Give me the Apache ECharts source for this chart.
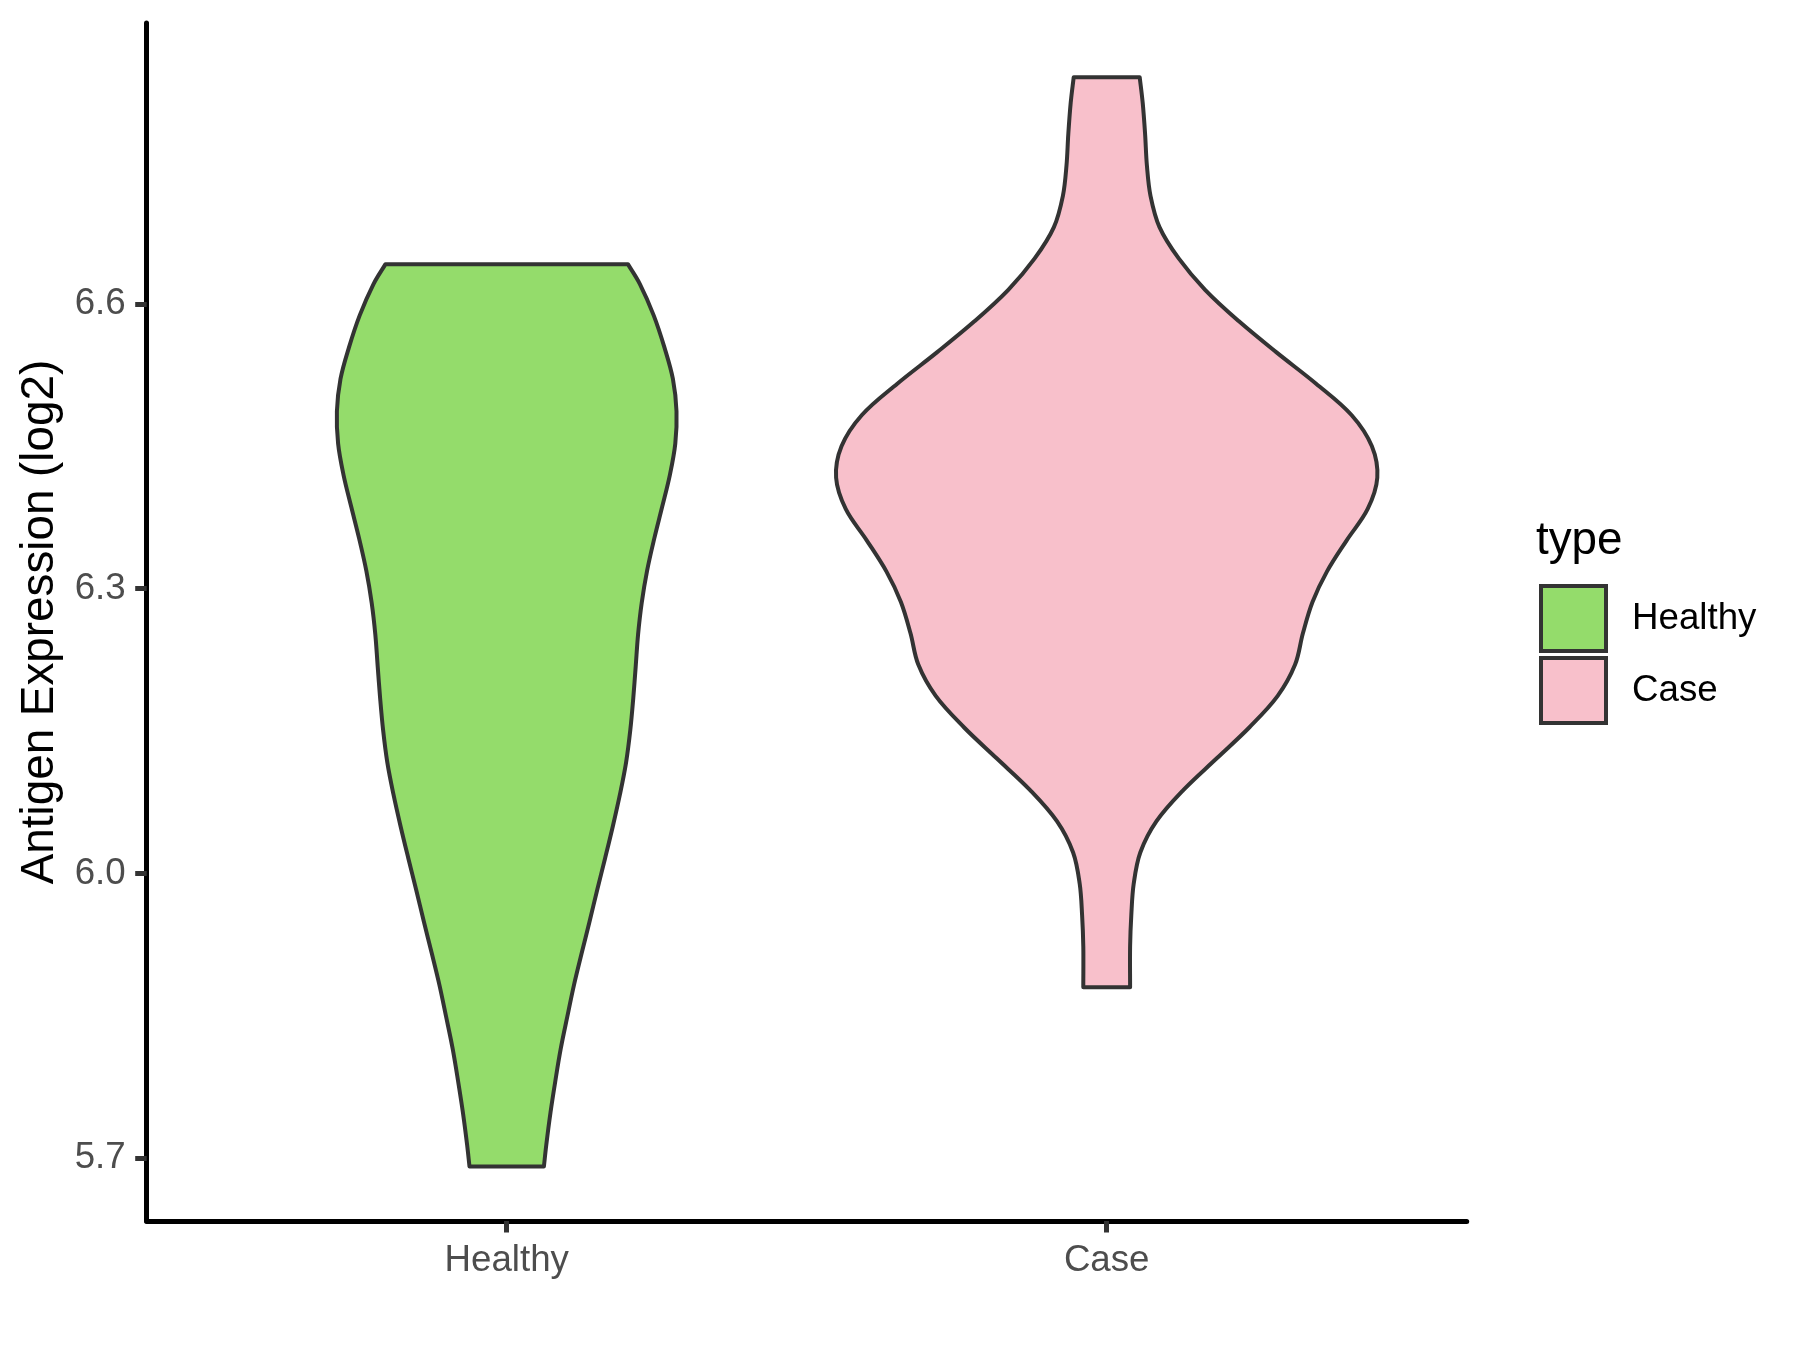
<!DOCTYPE html>
<html>
<head>
<meta charset="utf-8">
<script src="https://cdn.jsdelivr.net/npm/echarts@6/dist/echarts.min.js"></script>
<style>
html,body{margin:0;padding:0;background:#ffffff;}
#chart{width:1800px;height:1350px;}
</style>
</head>
<body>
<div id="chart"></div>
<script>
// Categories and axis ticks
const categories = ['Healthy', 'Case'];
const yTicks = [5.7, 6.0, 6.3, 6.6];

// Violin outlines: expression level (top to bottom) and half width (in category units)
const healthyLevels = [6.642, 6.621, 6.588, 6.554, 6.521, 6.487, 6.453, 6.420, 6.386, 6.353,
                       6.319, 6.285, 6.252, 6.218, 6.185, 6.151, 6.117, 6.084, 6.050, 6.016,
                       5.983, 5.949, 5.916, 5.882, 5.849, 5.815, 5.781, 5.748, 5.714, 5.691];
const healthyHalfWidth = [0.202, 0.222, 0.245, 0.263, 0.277, 0.283, 0.281, 0.272, 0.259, 0.246,
                          0.234, 0.225, 0.219, 0.215, 0.211, 0.206, 0.199, 0.189, 0.177, 0.164,
                          0.151, 0.138, 0.125, 0.112, 0.101, 0.090, 0.081, 0.073, 0.066, 0.062];

const caseLevels = [6.839, 6.812, 6.779, 6.746, 6.714, 6.681, 6.648, 6.615, 6.582, 6.549,
                    6.516, 6.483, 6.450, 6.417, 6.384, 6.351, 6.318, 6.286, 6.253, 6.220,
                    6.187, 6.154, 6.121, 6.088, 6.055, 6.022, 5.989, 5.956, 5.923, 5.880];
const caseHalfWidth = [0.055, 0.060, 0.064, 0.067, 0.073, 0.088, 0.120, 0.164, 0.220, 0.283,
                       0.349, 0.408, 0.442, 0.451, 0.435, 0.400, 0.367, 0.343, 0.327, 0.314,
                       0.285, 0.238, 0.183, 0.128, 0.083, 0.056, 0.045, 0.041, 0.039, 0.039];

const fillColors = ['#94DC6B', '#F8C0CB'];
const outlineColor = '#333333';

function violinRender(levels, halfWidths, color) {
  return function (params, api) {
    const pos = api.value(0);
    const right = [], left = [];
    for (let i = 0; i < levels.length; i++) {
      right.push(api.coord([pos + halfWidths[i], levels[i]]));
      left.push(api.coord([pos - halfWidths[i], levels[i]]));
    }
    const n = levels.length;
    const pts = [];
    // corners are doubled so that smoothing keeps the flat ends straight
    pts.push(right[0]);
    for (let i = 0; i < n; i++) pts.push(right[i]);
    pts.push(right[n - 1]);
    pts.push(left[n - 1]);
    for (let i = n - 1; i >= 0; i--) pts.push(left[i]);
    pts.push(left[0]);
    return {
      type: 'polygon',
      shape: { points: pts, smooth: 0.35 },
      style: { fill: color, stroke: outlineColor, lineWidth: 4, lineJoin: 'round' }
    };
  };
}

const chart = echarts.init(document.getElementById('chart'), null, { renderer: 'canvas' });
const FONT = 'Liberation Sans, Arial, sans-serif';

chart.setOption({
  backgroundColor: '#ffffff',
  animation: false,
  title: {
    text: 'type',
    left: 1536,
    top: 518,
    padding: 0,
    textStyle: { fontSize: 45.8, fontWeight: 'normal', color: '#000000', fontFamily: FONT }
  },
  legend: {
    orient: 'vertical',
    left: 1539,
    top: 584,
    padding: 0,
    itemWidth: 65,
    itemHeight: 65,
    itemGap: 3,
    icon: 'rect',
    itemStyle: { borderColor: outlineColor, borderWidth: 4 },
    textStyle: { fontSize: 36.7, color: '#000000', fontFamily: FONT, padding: [0, 0, 0, 21] },
    data: [
      { name: categories[0], itemStyle: { color: fillColors[0], borderColor: outlineColor, borderWidth: 4 } },
      { name: categories[1], itemStyle: { color: fillColors[1], borderColor: outlineColor, borderWidth: 4 } }
    ]
  },
  grid: { left: 146.7, right: 333.3, top: 23, bottom: 129 },
  xAxis: {
    type: 'value',
    min: 0.4,
    max: 2.6,
    splitLine: { show: false },
    axisLine: { show: true, lineStyle: { color: '#000000', width: 5 } },
    axisTick: { show: true, customValues: [1, 2], length: 11.5, lineStyle: { color: outlineColor, width: 5 } },
    axisLabel: {
      customValues: [1, 2],
      formatter: function (v) { return categories[Math.round(v) - 1] || ''; },
      margin: 21,
      fontSize: 36.7,
      color: '#4D4D4D',
      fontFamily: FONT
    }
  },
  yAxis: {
    type: 'value',
    min: 5.6337,
    max: 6.8961,
    name: 'Antigen Expression (log2)',
    nameLocation: 'middle',
    nameGap: 81,
    nameTextStyle: { fontSize: 45.8, color: '#000000', fontFamily: FONT },
    splitLine: { show: false },
    axisLine: { show: true, lineStyle: { color: '#000000', width: 5 } },
    axisTick: { show: true, customValues: yTicks, length: 11.5, lineStyle: { color: outlineColor, width: 5 } },
    axisLabel: {
      customValues: yTicks,
      formatter: function (v) { return v.toFixed(1); },
      margin: 21,
      fontSize: 36.7,
      color: '#4D4D4D',
      fontFamily: FONT
    }
  },
  series: [
    {
      type: 'custom',
      name: categories[0],
      renderItem: violinRender(healthyLevels, healthyHalfWidth, fillColors[0]),
      itemStyle: { color: fillColors[0], borderColor: outlineColor },
      silent: true,
      data: [[1, healthyLevels[0]]]
    },
    {
      type: 'custom',
      name: categories[1],
      renderItem: violinRender(caseLevels, caseHalfWidth, fillColors[1]),
      itemStyle: { color: fillColors[1], borderColor: outlineColor },
      silent: true,
      data: [[2, caseLevels[0]]]
    }
  ]
});
</script>
</body>
</html>
